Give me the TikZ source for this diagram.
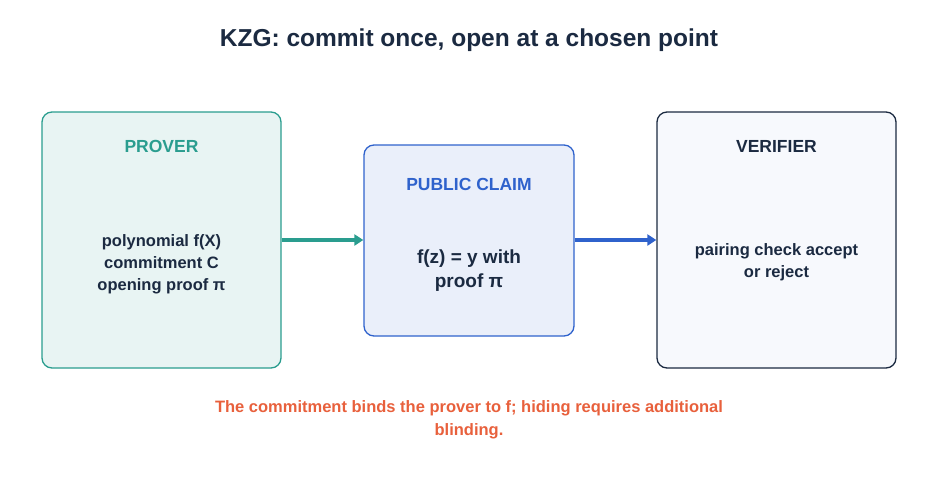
\documentclass[tikz,border=0pt]{standalone}
\usepackage{fontspec}
\setmainfont{Liberation Sans}
\usetikzlibrary{arrows.meta}
\definecolor{navy}{HTML}{1B2A41}
\definecolor{teal}{HTML}{2A9D8F}
\definecolor{blu}{HTML}{2F62CC}
\definecolor{org}{HTML}{E8603C}
\begin{document}
\begin{tikzpicture}[x=1pt,y=-1pt,
 box/.style={draw,line width=1.3pt,rounded corners=10pt},
 hd/.style={font=\fontsize{17.5}{20}\selectfont\bfseries},
 bd/.style={font=\fontsize{16.5}{22}\selectfont\bfseries,text=navy,align=center},
 arr/.style={line width=3.5pt,-{Triangle[length=9pt,width=11pt]}}]
\useasboundingbox (0,0) rectangle (938,480);
\node[font=\fontsize{24.5}{28}\selectfont\bfseries,text=navy] (title) at (469,40) {KZG: commit once, open at a chosen point};
\node[box,draw=teal,fill=teal!11,minimum width=239pt,minimum height=256pt] (p) at (161.5,240) {};
\node[box,draw=blu,fill=blu!10,minimum width=210pt,minimum height=191pt] (c) at (469,240.5) {};
\node[box,draw=navy,fill=blu!4,minimum width=239pt,minimum height=256pt] (v) at (776.5,240) {};
\node[hd,text=teal] (pt) at (161.5,146) {PROVER};
\node[hd,text=blu] (ct) at (469,184) {PUBLIC CLAIM};
\node[hd,text=navy] (vt) at (776.5,146) {VERIFIER};
\node[bd] (pb) at (161.5,264) {polynomial f(X)\\commitment C\\opening proof π};
\node[bd,font=\fontsize{19}{24}\selectfont\bfseries] (cb) at (469,271) {f(z) = y with\\proof π};
\node[bd] (vb) at (776.5,262) {pairing check accept\\or reject};
\draw[arr,teal] (p.east|-0,240) -- (c.west|-0,240);
\draw[arr,blu] (c.east|-0,240) -- (v.west|-0,240);
\node[font=\fontsize{16.5}{23}\selectfont\bfseries,text=org,align=center] (n) at (469,420) {The commitment binds the prover to f; hiding requires additional\\blinding.};
\end{tikzpicture}
\end{document}
